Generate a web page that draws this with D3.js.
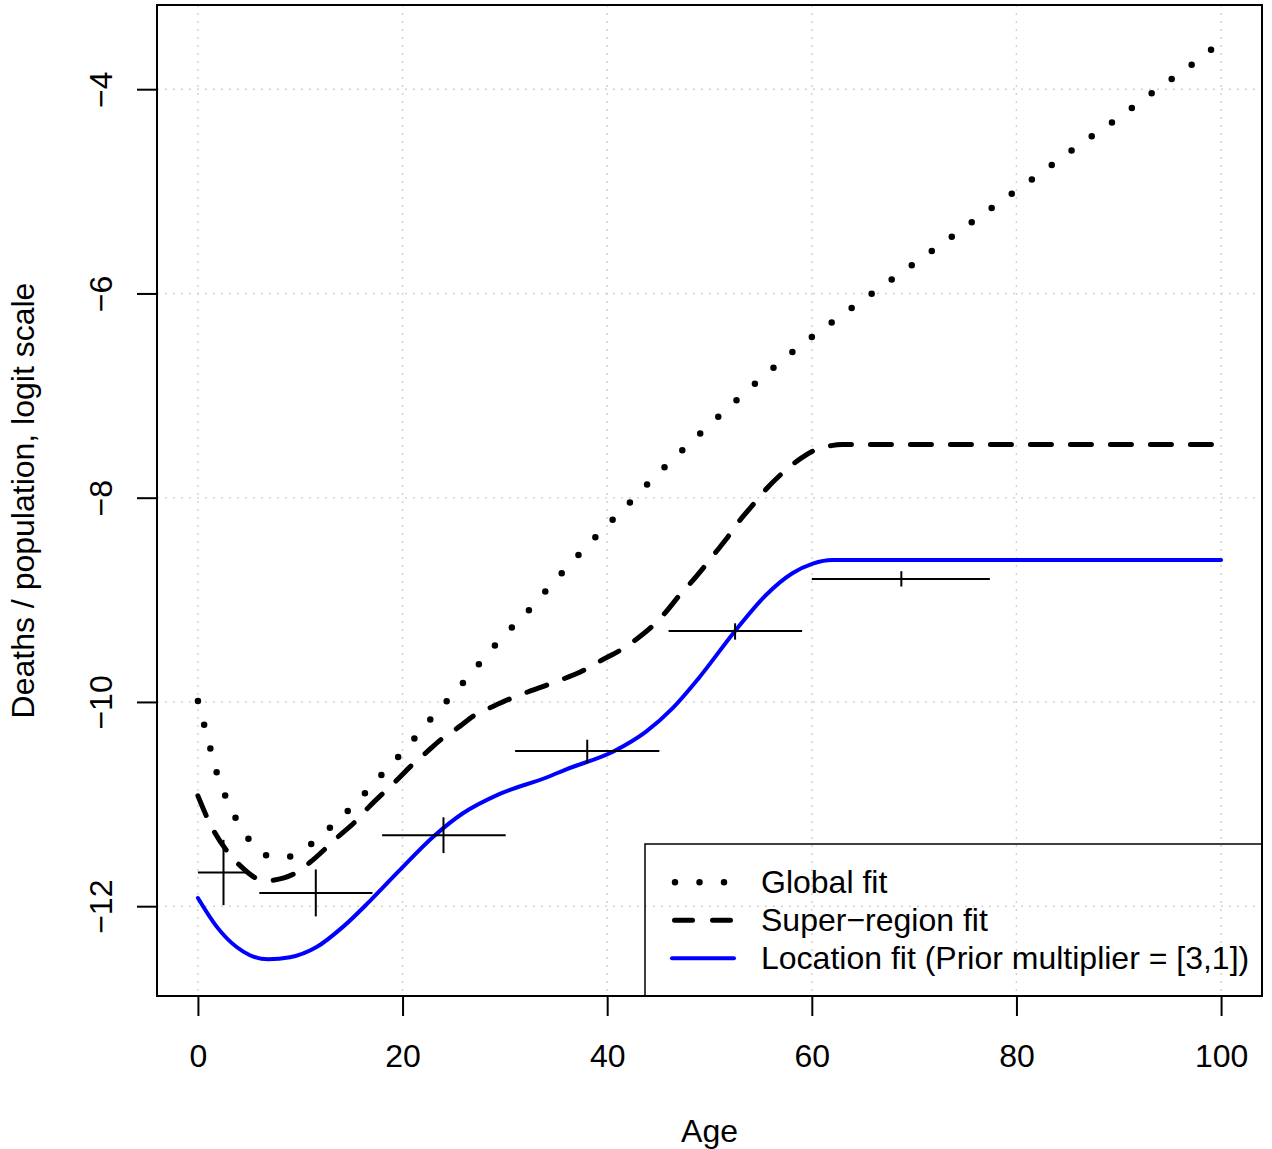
<!DOCTYPE html>
<html>
<head>
<meta charset="utf-8">
<script src="https://cdn.jsdelivr.net/npm/d3@7"></script>
<style>
  html, body { margin: 0; padding: 0; background: #fff; }
  svg { display: block; }
  text { font-family: "Liberation Sans", Arial, sans-serif; fill: #000; }
</style>
</head>
<body>
<svg id="chart" width="1272" height="1149"></svg>
<script>
// ---------------- data ----------------
const globalAges = [0, 0.6, 1.2, 1.8, 2.6, 3.6, 4.8, 6.4, 8.0, 8.7, 10.8, 12.6, 14.3, 16.0, 17.6, 19.2, 20.8, 22.3, 23.9, 25.5, 30.1, 31.8, 35.0, 38.2, 39.8, 41.5, 44.8, 48.25, 51.7, 55.3, 58.9, 62.7, 66.6, 70.4, 74.3, 78.1, 82.0, 85.8, 89.7, 93.5, 97.4, 100];
const globalFit = [-9.99, -10.22, -10.45, -10.68, -10.90, -11.12, -11.32, -11.49, -11.525, -11.52, -11.41, -11.26, -11.10, -10.93, -10.75, -10.58, -10.40, -10.22, -10.04, -9.86, -9.33, -9.16, -8.80, -8.455, -8.29, -8.12, -7.78, -7.45, -7.13, -6.81, -6.51, -6.23, -5.95, -5.68, -5.40, -5.125, -4.85, -4.57, -4.30, -4.02, -3.74, -3.535];

const superAges = [0, 1.17, 3.0, 4.1, 6.05, 6.8, 7.36, 9.64, 10.9, 13.7, 15.5, 16.6, 19.4, 21.0, 22.2, 24.1, 25.3, 27.2, 28.7, 30.5, 32.3, 34.5, 38.1, 39.3, 41.5, 42.8, 44.6, 45.6, 47.2, 48.2, 49.7, 50.65, 51.6, 52.9, 54.5, 55.5, 57.0, 58.3, 59.0, 60.4, 61.9, 63.0, 100];
const superFit = [-10.92, -11.19, -11.48, -11.60, -11.74, -11.75, -11.745, -11.67, -11.575, -11.32, -11.16, -11.04, -10.77, -10.61, -10.505, -10.34, -10.26, -10.12, -10.05, -9.97, -9.90, -9.82, -9.67, -9.60, -9.48, -9.39, -9.24, -9.135, -8.94, -8.83, -8.65, -8.53, -8.41, -8.23, -8.04, -7.92, -7.77, -7.66, -7.61, -7.53, -7.49, -7.48, -7.48];

const locAges = [0, 1.83, 3.78, 5.08, 6.87, 9.0, 11.6, 14.2, 16.8, 19.7, 23.0, 25.9, 29.5, 34.2, 36.0, 40.7, 43.8, 46.4, 49.0, 52.5, 55.5, 58.1, 60.1, 62.0, 100];
const locFit = [-11.92, -12.20, -12.40, -12.48, -12.52, -12.50, -12.40, -12.20, -11.95, -11.65, -11.32, -11.09, -10.90, -10.735, -10.66, -10.48, -10.29, -10.06, -9.76, -9.305, -8.955, -8.74, -8.645, -8.61, -8.61];

// observed data: age interval, midpoint, value and its uncertainty interval
const obsAgeLo = [0, 6.0, 18.0, 31.0, 46.0, 60.0];
const obsAgeHi = [4.8, 17.06, 30.08, 45.1, 59.05, 77.4];
const obsAgeMid = [2.5, 11.52, 24.0, 38.05, 52.5, 68.75];
const obsValue = [-11.67, -11.87, -11.305, -10.48, -9.305, -8.795];
const obsLo = [-11.99, -12.10, -11.48, -10.60, -9.39, -8.87];
const obsHi = [-11.35, -11.64, -11.13, -10.37, -9.23, -8.72];

const xTicks = [0, 20, 40, 60, 80, 100];
const yTicks = [-12, -10, -8, -6, -4];
const legendLabels = ["Global fit", "Super\u2212region fit", "Location fit (Prior multiplier = [3,1])"];

// ---------------- layout ----------------
const svg = d3.select("#chart");
const L = 157, R = 1262, T = 5, B = 996;
const FS = 32;

// R-style 4% axis extension
const xr = [0, 100];
const xpad = (xr[1] - xr[0]) * 0.04;
const allY = globalFit.concat(superFit, locFit, obsLo, obsHi);
const yr = d3.extent(allY);
const ypad = (yr[1] - yr[0]) * 0.04;

const x = d3.scaleLinear().domain([xr[0] - xpad, xr[1] + xpad]).range([L, R]);
const y = d3.scaleLinear().domain([yr[0] - ypad, yr[1] + ypad]).range([B, T]);

// grid
const grid = svg.append("g").attr("stroke", "#d3d3d3").attr("stroke-width", 1.5)
  .attr("stroke-dasharray", "2 6");
grid.selectAll("line.gx").data(xTicks).join("line")
  .attr("x1", d => x(d)).attr("x2", d => x(d)).attr("y1", T).attr("y2", B);
grid.selectAll("line.gy").data(yTicks).join("line")
  .attr("y1", d => y(d)).attr("y2", d => y(d)).attr("x1", L).attr("x2", R);

// curves
const mk = (ages, vals) => ages.map((a, i) => [a, vals[i]]);
const line = d3.line().x(d => x(d[0])).y(d => y(d[1])).curve(d3.curveMonotoneX);

svg.append("path").attr("d", line(mk(globalAges, globalFit)))
  .attr("fill", "none").attr("stroke", "#000").attr("stroke-width", 6.5)
  .attr("stroke-linecap", "round").attr("stroke-dasharray", "0 24.6");
svg.append("path").attr("d", line(mk(superAges, superFit)))
  .attr("fill", "none").attr("stroke", "#000").attr("stroke-width", 5)
  .attr("stroke-linecap", "round").attr("stroke-dasharray", "21 19");
svg.append("path").attr("d", line(mk(locAges, locFit)))
  .attr("fill", "none").attr("stroke", "#0000ff").attr("stroke-width", 4)
  .attr("stroke-linecap", "round");

// observations (crosses)
const obs = obsAgeMid.map((m, i) => ({ m, lo: obsAgeLo[i], hi: obsAgeHi[i], v: obsValue[i], vlo: obsLo[i], vhi: obsHi[i] }));
const og = svg.append("g").attr("stroke", "#000").attr("stroke-width", 2);
og.selectAll("line.h").data(obs).join("line")
  .attr("x1", d => x(d.lo)).attr("x2", d => x(d.hi)).attr("y1", d => y(d.v)).attr("y2", d => y(d.v));
og.selectAll("line.v").data(obs).join("line")
  .attr("x1", d => x(d.m)).attr("x2", d => x(d.m)).attr("y1", d => y(d.vlo)).attr("y2", d => y(d.vhi));

// box
svg.append("rect").attr("x", L).attr("y", T).attr("width", R - L).attr("height", B - T)
  .attr("fill", "none").attr("stroke", "#000").attr("stroke-width", 2);

// axes
const minus = v => String(v).replace("-", "\u2212");
const xAxis = svg.append("g").attr("transform", `translate(0,${B})`)
  .call(d3.axisBottom(x).tickValues(xTicks).tickSize(20).tickSizeOuter(0).tickFormat(minus));
xAxis.select(".domain").attr("d", `M${x(0)},0H${x(100)}`).attr("stroke-width", 2);
xAxis.selectAll(".tick line").attr("stroke-width", 2);
xAxis.selectAll(".tick text").attr("y", 71).attr("dy", 0).attr("font-size", FS)
  .attr("font-family", "Liberation Sans, Arial, sans-serif");

const yAxis = svg.append("g").attr("transform", `translate(${L},0)`)
  .call(d3.axisLeft(y).tickValues(yTicks).tickSize(20).tickSizeOuter(0).tickFormat(minus));
yAxis.select(".domain").attr("d", `M0,${y(-12)}V${y(-4)}`).attr("stroke-width", 2);
yAxis.selectAll(".tick line").attr("stroke-width", 2);
yAxis.selectAll(".tick text").attr("x", 0).attr("dy", 0).attr("text-anchor", "middle")
  .attr("transform", "translate(-45,0) rotate(-90)").attr("font-size", FS)
  .attr("font-family", "Liberation Sans, Arial, sans-serif");

// titles
svg.append("text").attr("x", (L + R) / 2).attr("y", 1142).attr("text-anchor", "middle")
  .attr("font-size", FS).text("Age");
svg.append("text").attr("transform", `translate(34,${(T + B) / 2}) rotate(-90)`)
  .attr("text-anchor", "middle").attr("font-size", FS).text("Deaths / population, logit scale");

// legend
const lg = svg.append("g");
lg.append("rect").attr("x", 645).attr("y", 844).attr("width", R - 645).attr("height", B - 844)
  .attr("fill", "none").attr("stroke", "#000").attr("stroke-width", 1.5);
const legStyles = [
  { x1: 675, x2: 734, color: "#000", w: 6.5, dash: "0 24.5" },
  { x1: 674.5, x2: 731.5, color: "#000", w: 5, dash: "18 20" },
  { x1: 672, x2: 734, color: "#0000ff", w: 4, dash: null }
];
legendLabels.forEach((lab, i) => {
  const cy = 882.3 + i * 38;
  const s = legStyles[i];
  lg.append("line").attr("x1", s.x1).attr("x2", s.x2).attr("y1", cy).attr("y2", cy)
    .attr("stroke", s.color).attr("stroke-width", s.w).attr("stroke-linecap", "round")
    .attr("stroke-dasharray", s.dash);
  lg.append("text").attr("x", 761).attr("y", cy + 11).attr("font-size", FS).text(lab);
});
</script>
</body>
</html>
